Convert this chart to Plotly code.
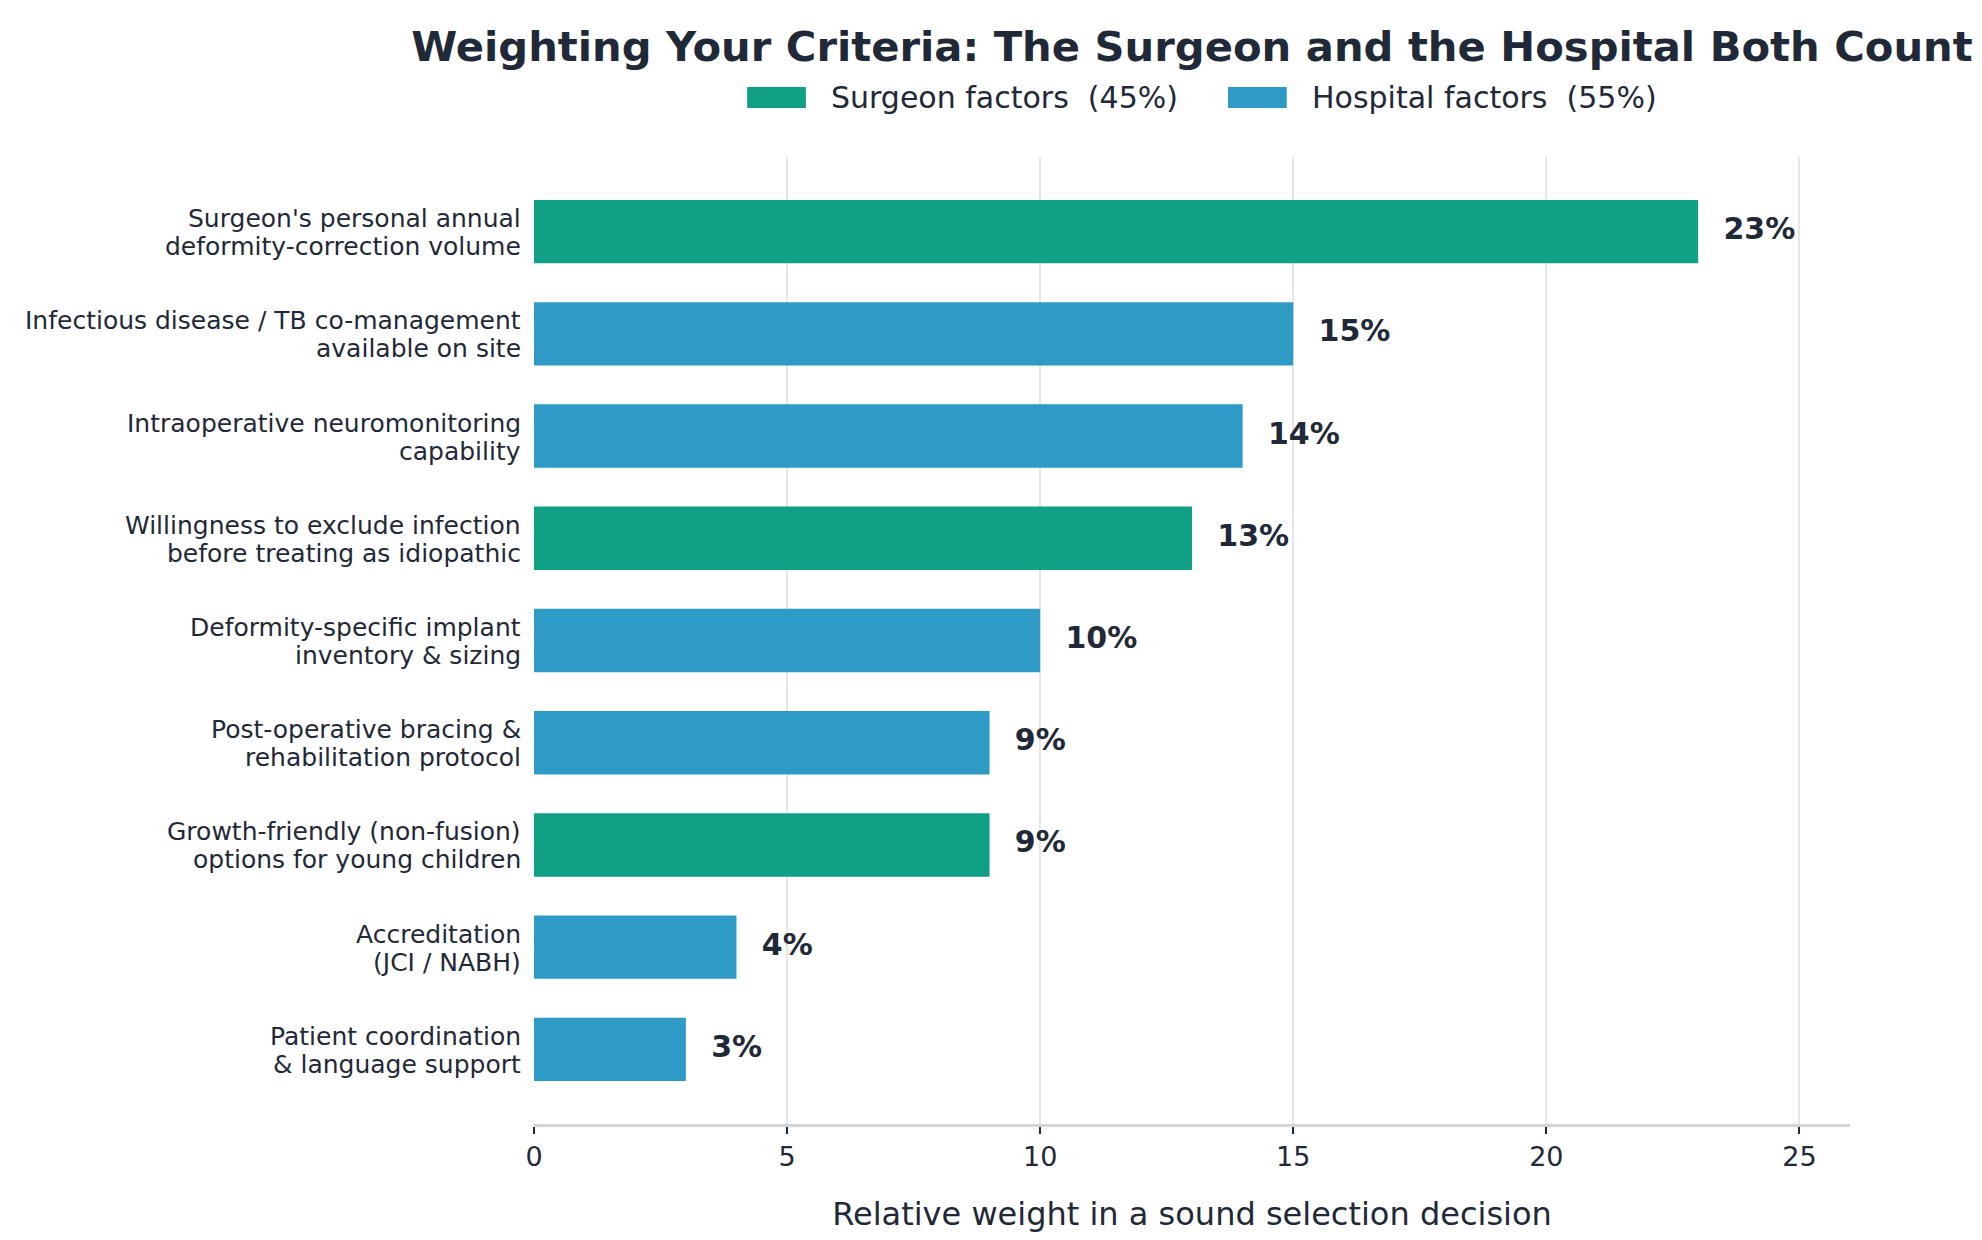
import plotly.graph_objects as go

# criteria, top to bottom
CRITERIA = [
    "Surgeon's personal annual<br>deformity-correction volume",
    "Infectious disease / TB co-management<br>available on site",
    "Intraoperative neuromonitoring<br>capability",
    "Willingness to exclude infection<br>before treating as idiopathic",
    "Deformity-specific implant<br>inventory & sizing",
    "Post-operative bracing &<br>rehabilitation protocol",
    "Growth-friendly (non-fusion)<br>options for young children",
    "Accreditation<br>(JCI / NABH)",
    "Patient coordination<br>& language support",
]
WEIGHTS = [23, 15, 14, 13, 10, 9, 9, 4, 3]
GROUPS = ["Surgeon", "Hospital", "Hospital", "Surgeon", "Hospital",
          "Hospital", "Surgeon", "Hospital", "Hospital"]

GROUP_NAMES = {"Surgeon": "Surgeon factors  (45%)", "Hospital": "Hospital factors  (55%)"}
COLORS = {"Surgeon": "#0FA086", "Hospital": "#2E9BC6"}
DARK = "#1F2937"
FONT = "DejaVu Sans"

fig = go.Figure()

for grp in ["Surgeon", "Hospital"]:
    ys = [c for c, g in zip(CRITERIA, GROUPS) if g == grp]
    xs = [w for w, g in zip(WEIGHTS, GROUPS) if g == grp]
    fig.add_trace(go.Bar(
        x=xs, y=ys, orientation='h',
        name=GROUP_NAMES[grp],
        marker=dict(color=COLORS[grp], line=dict(width=0)),
        width=0.62,
        hoverinfo='x+y',
        showlegend=False,
    ))

# value labels just past the end of each bar
fig.add_trace(go.Scatter(
    x=[w + 0.5 for w in WEIGHTS], y=CRITERIA,
    mode='text',
    text=[f"<b>{w}%</b>" for w in WEIGHTS],
    textposition='middle right',
    textfont=dict(family=FONT, size=30, color=DARK),
    showlegend=False, hoverinfo='skip', cliponaxis=False,
))

# category labels as annotations (tighter line spacing than tick labels allow)
for cat in CRITERIA:
    lines = cat.split("<br>")
    for i, line in enumerate(lines):
        fig.add_annotation(xref='paper', yref='y', x=0, y=cat,
                           xanchor='right', yanchor='middle', xshift=-11,
                           yshift=13 - 28 * i, showarrow=False, text=line,
                           font=dict(family=FONT, size=25, color=DARK))

# legend drawn by hand so the swatches can be wide rectangles
legend_items = [("Surgeon", 0.162), ("Hospital", 0.5274)]
for grp, x0 in legend_items:
    fig.add_shape(type='rect', xref='paper', yref='paper',
                  x0=x0, x1=x0 + 0.0446, y0=1.0507, y1=1.0724,
                  fillcolor=COLORS[grp], line=dict(width=0))
    fig.add_annotation(xref='paper', yref='paper', x=x0 + 0.0625, y=1.0615,
                       xanchor='left', yanchor='middle', showarrow=False,
                       text=GROUP_NAMES[grp],
                       font=dict(family=FONT, size=30, color=DARK))

fig.update_layout(
    width=1982, height=1240,
    margin=dict(l=526, r=140, t=149, b=124),
    paper_bgcolor='white', plot_bgcolor='white',
    font=dict(family=FONT, color=DARK),
    title=dict(
        text="<b>Weighting Your Criteria: The Surgeon and the Hospital Both Count</b>",
        x=0.5, xref='paper', xanchor='center',
        y=1 - 38 / 1240, yref='container', yanchor='middle',
        font=dict(family=FONT, size=41.7, color=DARK),
    ),
    showlegend=False,
)

fig.update_xaxes(
    range=[0, 26], tickvals=[0, 5, 10, 15, 20, 25],
    showgrid=True, gridcolor='#E5E7EB', gridwidth=2,
    zeroline=False,
    showline=True, linecolor='#D1D5DB', linewidth=2.5,
    ticks='outside', ticklen=7, tickcolor=DARK, tickwidth=2,
    tickfont=dict(family=FONT, size=27, color=DARK),
    title=dict(text="Relative weight in a sound selection decision",
               font=dict(family=FONT, size=32, color=DARK), standoff=32),
)
fig.update_yaxes(
    categoryorder='array', categoryarray=CRITERIA,
    range=[8.73, -0.73],
    showgrid=False, zeroline=False, showline=False,
    ticks='', showticklabels=False,
)

fig.write_html("out.html")
